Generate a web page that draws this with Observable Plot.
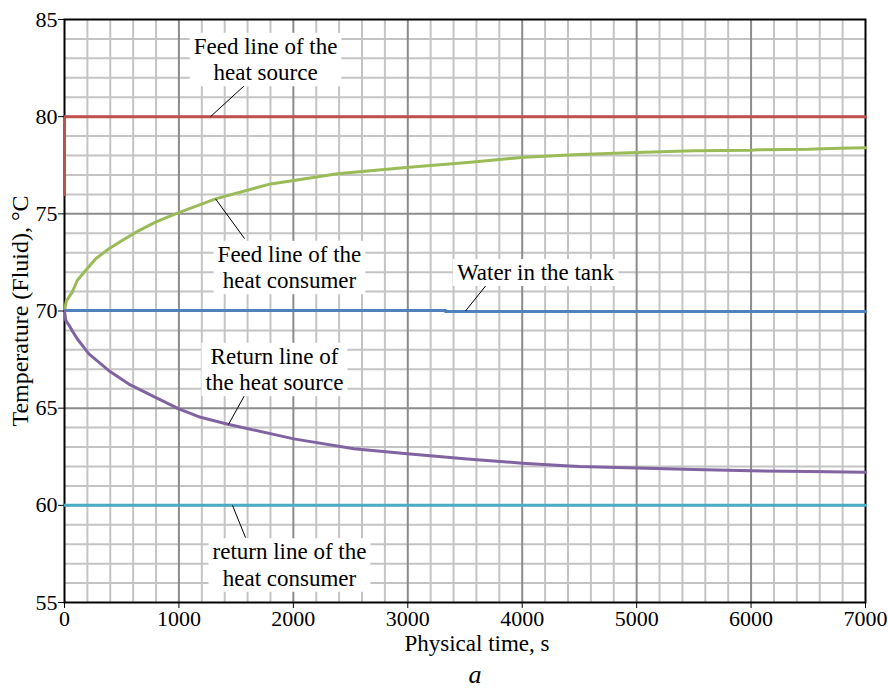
<!DOCTYPE html>
<html>
<head>
<meta charset="utf-8">
<script src="https://cdn.jsdelivr.net/npm/d3@7"></script>
<script src="https://cdn.jsdelivr.net/npm/@observablehq/plot@0.6"></script>
<style>
  body { margin: 0; background: white; }
  #chart svg { display: block; }
  #caption { width: 888px; box-sizing: border-box; padding-left: 62px; text-align: center;
    font: italic 26px "Liberation Serif", serif; line-height: 22px; color: black; }
</style>
</head>
<body>
<div id="chart"></div>
<div id="caption">a</div>
<script>
// ---- data ----
const xTicks = [0, 1000, 2000, 3000, 4000, 5000, 6000, 7000];
const yTicks = [55, 60, 65, 70, 75, 80, 85];

const sourceFeedT = [0, 0, 7000];
const sourceFeedV = [76, 80, 80];

const consumerFeedT = [0, 15, 38, 67, 111, 184, 271, 388, 504, 650, 795, 970, 1320, 1801, 2004, 2384, 3010, 3549, 4015, 4500, 5000, 5500, 6000, 6060, 6500, 6770, 7000];
const consumerFeedV = [70.0, 70.5, 70.71, 70.96, 71.57, 72.08, 72.68, 73.20, 73.63, 74.14, 74.57, 75.00, 75.77, 76.54, 76.71, 77.06, 77.40, 77.66, 77.91, 78.05, 78.15, 78.24, 78.27, 78.30, 78.32, 78.38, 78.40];

const tankT = [0, 3330, 3330, 7000];
const tankV = [70.02, 70.02, 69.97, 69.97];

const sourceReturnT = [0, 12, 32, 67, 111, 213, 388, 562, 795, 999, 1189, 1436, 2004, 2529, 2995, 3520, 4001, 4336, 4500, 5000, 5500, 6000, 6500, 7000];
const sourceReturnV = [70, 69.5, 69.34, 68.99, 68.57, 67.79, 66.93, 66.24, 65.56, 64.96, 64.53, 64.16, 63.42, 62.91, 62.65, 62.39, 62.17, 62.05, 62.0, 61.92, 61.85, 61.78, 61.74, 61.70];

const consumerReturnT = [0, 7000];
const consumerReturnV = [60, 60];

const labelText = ["Feed line of the\nheat source", "Feed line of the\nheat consumer", "Water in the tank", "Return line of\nthe heat source", "return line of the\nheat consumer"];
const labelT = [1757, 1966, 4116, 1835, 1966];
const labelV = [82.99, 72.29, 72.03, 67.04, 56.98];

const leaderT1 = [1582, 1320, 3697, 1573, 1468];
const leaderV1 = [81.65, 75.77, 71.41, 65.65, 60.0];
const leaderT2 = [1276, 1573, 3504, 1433, 1582];
const leaderV2 = [80.0, 73.73, 70.0, 64.16, 58.34];

const series = [
  {t: sourceFeedT, v: sourceFeedV, color: "#c0504d"},
  {t: consumerFeedT, v: consumerFeedV, color: "#9bbb59"},
  {t: tankT, v: tankV, color: "#4f81bd"},
  {t: sourceReturnT, v: sourceReturnV, color: "#8064a2"},
  {t: consumerReturnT, v: consumerReturnV, color: "#4bacc6"}
];

const labels = labelText.map((s, i) => ({text: s, t: labelT[i], v: labelV[i]}));
const leaders = leaderT1.map((d, i) => ({t1: d, v1: leaderV1[i], t2: leaderT2[i], v2: leaderV2[i]}));

const minorX = d3.range(200, 7000, 200).filter(d => d % 1000 !== 0);
const minorY = d3.range(56, 85, 1).filter(d => d % 5 !== 0);
const majorX = [1000, 2000, 3000, 4000, 5000, 6000];
const majorY = [60, 65, 70, 75, 80];

const font = "Liberation Serif";

const plot = Plot.plot({
  width: 888,
  height: 664,
  marginLeft: 64,
  marginRight: 23,
  marginTop: 19,
  marginBottom: 62,
  x: {domain: [0, 7000]},
  y: {domain: [55, 85]},
  style: {fontFamily: font, fontSize: "22px", background: "white", color: "black"},
  marks: [
    Plot.ruleX(minorX, {stroke: "#c4c4c4", strokeWidth: 2}),
    Plot.ruleY(minorY, {stroke: "#c4c4c4", strokeWidth: 2}),
    Plot.ruleX(majorX, {stroke: "#8c8c8c", strokeWidth: 2}),
    Plot.ruleY(majorY, {stroke: "#8c8c8c", strokeWidth: 2}),
    Plot.frame({stroke: "black", strokeWidth: 2}),
    ...series.map(s => Plot.line(s.t.map((t, i) => [t, s.v[i]]), {x: d => d[0], y: d => d[1], stroke: s.color, strokeWidth: 3})),
    Plot.link(leaders, {x1: "t1", y1: "v1", x2: "t2", y2: "v2", stroke: "black", strokeWidth: 1}),
    Plot.text(labels, {x: "t", y: "v", text: "text", fill: "black", fontSize: 23, lineHeight: 1.15, lineAnchor: "middle"}),
    Plot.axisX(xTicks, {tickSize: 6, tickPadding: 2, tickFormat: d => String(d), label: null, fontSize: 22}),
    Plot.axisY(yTicks, {tickSize: 6, tickPadding: 1, tickFormat: d => String(d), label: null, fontSize: 22}),
    Plot.text(["Physical time, s"], {frameAnchor: "bottom", dx: 12, dy: 32, lineAnchor: "top", fontSize: 23, fill: "black"}),
    Plot.text(["Temperature (Fluid), °C"], {frameAnchor: "left", dx: -44, rotate: -90, lineAnchor: "middle", textAnchor: "middle", fontSize: 24, fill: "black"})
  ]
});

document.getElementById("chart").append(plot);

// white boxes behind annotation texts
const wanted = new Set(labelText.map(s => s.replace(/\n/g, "")));
plot.querySelectorAll("text").forEach(t => {
  if (!wanted.has(t.textContent)) return;
  const b = t.getBBox();
  const r = document.createElementNS("http://www.w3.org/2000/svg", "rect");
  r.setAttribute("x", b.x - 4);
  r.setAttribute("y", b.y - 1);
  r.setAttribute("width", b.width + 8);
  r.setAttribute("height", b.height + 2);
  r.setAttribute("fill", "white");
  const tr = t.getAttribute("transform");
  if (tr) r.setAttribute("transform", tr);
  t.parentNode.insertBefore(r, t);
});
</script>
</body>
</html>
